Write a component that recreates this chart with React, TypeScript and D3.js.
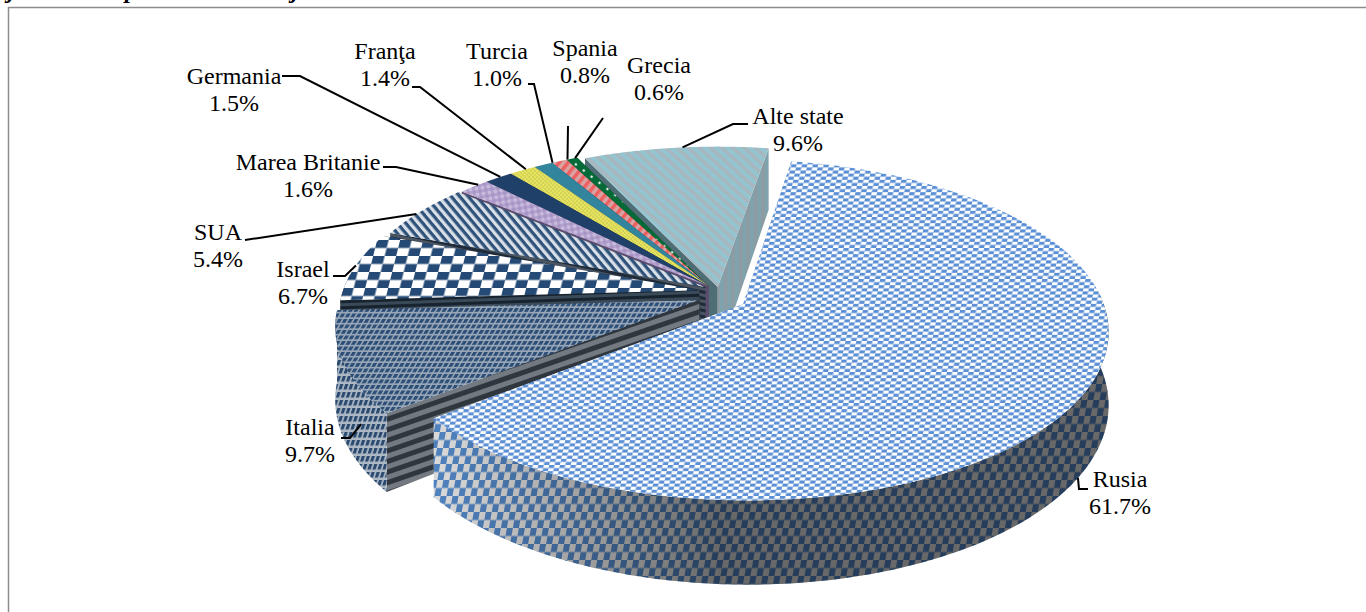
import React from "react";
import * as d3 from "d3";

// values
const categories = ["Rusia", "Italia", "Israel", "SUA", "Marea Britanie", "Germania", "Franţa", "Turcia", "Spania", "Grecia", "Alte state"];
const shares = [61.7, 9.7, 6.7, 5.4, 1.6, 1.5, 1.4, 1.0, 0.8, 0.6, 9.6];
const shareLabels = ["61.7%", "9.7%", "6.7%", "5.4%", "1.6%", "1.5%", "1.4%", "1.0%", "0.8%", "0.6%", "9.6%"];

// slice offset from the pie centre, in pie radii
const offsetX = [0.075, -0.047, -0.047, -0.03, -0.02, -0.02, -0.02, -0.02, -0.02, -0.02, 0.005];
const offsetY = [-0.05, -0.025, 0.035, 0.055, 0.06, 0.06, 0.06, 0.06, 0.06, 0.06, 0.055];

// pattern ids for top face, outer wall and the two cut walls of each slice
const topFills = ["rusTop", "itaTop", "isrTop", "usaTop", "ukTop", "deTop", "frTop", "trTop", "esTop", "grTop", "altTop"];
const rimFills = ["rusRim", "itaRim", "isrWall", "usaWall", "ukWall", "deWall", "frWall", "trWall", "esWall", "grWall", "altWall"];
const startCutFills = ["rusRim", "itaCut", "isrWall", "usaWall", "ukWall", "deWall", "frWall", "trWall", "esWall", "grWall", "altWall"];
const endCutFills = ["rusRim", "itaCut", "isrWall", "usaWall", "ukWall", "deWall", "frWall", "trWall", "esWall", "grWall", "altCut"];

// label anchor (centre of the two lines), leader elbow points, leader rim angle
const labelPos = [
  [1120, 493], [310, 441], [303, 283], [218, 246], [308, 176], [234, 90],
  [385, 65], [497, 65], [585, 62], [659, 79], [798, 130],
];
const leaderStart = [
  [[1088, 489], [1079, 489]],
  [[341, 438], [350, 438]],
  [[333, 276], [345, 276]],
  [[245, 240]],
  [[383, 167], [396, 167]],
  [[282, 76], [300, 76]],
  [[412, 87], [420, 87]],
  [[528, 84], [534, 84]],
  [[568, 126]],
  [[603, 118]],
  [[748, 124], [733, 124]],
];
const leaderAngle = [122, 240, 279, 299, 314, 319, 324.5, 330, 333, 334.5, 353.5];

const clippedLetters = [["j", 11], ["p", 131], ["j", 295]];

// pie plane -> screen, with a little perspective
const cx = 716, cy = 296;
const radiusX = 358, radiusY = 164, thickness = 71, persp = 0.15;
const project = (x: number, y: number, z: number) => {
  const w = 1 + persp * y;
  return [cx + (radiusX * x) / w, cy - (radiusY * y) / w + (thickness * z) / w] as [number, number];
};
const deg = (d: number) => (d * Math.PI) / 180;
const line = d3.line();

const arcs = d3.pie<number>().sort(null).value(d => d)
  .startAngle(deg(9.5)).endAngle(deg(369.5))(shares);

const sliceGeom = arcs.map((a, i) => {
  const ox = offsetX[i], oy = offsetY[i];
  const at = (t: number, z: number) => project(ox + Math.sin(t), oy + Math.cos(t), z);
  const steps = d3.range(0, 121).map(s => a.startAngle + ((a.endAngle - a.startAngle) * s) / 120);
  const top = steps.map(t => at(t, 0));
  const bottom = steps.map(t => at(t, 1));
  // only the part of the outer wall that faces the viewer
  const front = steps.filter(t => Math.cos(t) < 0.1);
  const apex = project(ox, oy, 0), apexLow = project(ox, oy, 1);
  return {
    at,
    topPath: line([apex, ...top]) + "Z",
    rimPath: front.length > 1
      ? line([...front.map(t => at(t, 0)), ...[...front].reverse().map(t => at(t, 1))]) + "Z"
      : null,
    startCut: line([apex, top[0], bottom[0], apexLow]) + "Z",
    endCut: line([apex, top[120], bottom[120], apexLow]) + "Z",
  };
});

type PatProps = { id: string; w: number; h: number; bg: string; transform?: string; children?: React.ReactNode };
const Pat = ({ id, w, h, bg, transform, children }: PatProps) => (
  <pattern id={id} width={w} height={h} patternUnits="userSpaceOnUse" patternTransform={transform}>
    <rect width={w} height={h} fill={bg} />
    {children}
  </pattern>
);
const Check = ({ id, w, h, a, b, transform }: { id: string; w: number; h: number; a: string; b: string; transform?: string }) => (
  <Pat id={id} w={w * 2} h={h * 2} bg={a} transform={transform}>
    <rect width={w} height={h} fill={b} />
    <rect x={w} y={h} width={w} height={h} fill={b} />
  </Pat>
);
const Stripe = ({ id, p, a, b, transform }: { id: string; p: number; a: string; b: string; transform: string }) => (
  <Pat id={id} w={p} h={p} bg={a} transform={transform}>
    <rect width={p} height={p / 2} fill={b} />
  </Pat>
);

const Defs = () => (
  <defs>
    <Check id="rusTop" w={5.4} h={3.1} a="#ffffff" b="#5b8fd6" transform="skewX(-12)" />
    <Check id="rusRim" w={6} h={8} a="#d9d9d9" b="#4f81bd" transform="skewX(-10)" />
    <linearGradient id="rusShade" gradientUnits="userSpaceOnUse" x1={440} x2={720} y1={0} y2={0}>
      <stop offset="0" stopColor="#000" stopOpacity={0} />
      <stop offset="1" stopColor="#000" stopOpacity={0.52} />
    </linearGradient>
    <Pat id="itaTop" w={5.5} h={5.5} bg="#98a7b8" transform="skewX(-30)">
      <rect width={3.8} height={3.8} fill="#2d4f77" />
    </Pat>
    <Pat id="itaRim" w={5} h={8} bg="#aeb9c5" transform="skewX(-18)">
      <rect width={3.2} height={5.6} fill="#2a4a70" />
    </Pat>
    <Stripe id="itaCut" p={10} a="#737981" b="#30363d" transform="rotate(-19)" />
    <Check id="isrTop" w={11.5} h={8} a="#ffffff" b="#244a75" transform="skewX(-14)" />
    <Stripe id="isrWall" p={6} a="#3a4a58" b="#17232e" transform="rotate(-2)" />
    <Stripe id="usaTop" p={6.5} a="#d9e0e8" b="#2e527a" transform="rotate(50)" />
    <Stripe id="usaWall" p={6} a="#4a5561" b="#1f2b38" transform="rotate(12)" />
    <Pat id="ukTop" w={6} h={6} bg="#b3a2cf" transform="rotate(-10)">
      <rect width={3} height={3} fill="#a794c4" />
      <rect x={3} y={3} width={3} height={3} fill="#c9bddd" />
    </Pat>
    <Pat id="ukWall" w={6} h={6} bg="#5c4d6e" />
    <Pat id="deTop" w={6} h={6} bg="#1f4068" />
    <Pat id="deWall" w={6} h={6} bg="#15273e" />
    <Check id="frTop" w={2} h={2} a="#e7e25c" b="#d5d45a" />
    <Pat id="frWall" w={6} h={6} bg="#8d8a2e" />
    <Pat id="trTop" w={6} h={6} bg="#33859e" />
    <Pat id="trWall" w={6} h={6} bg="#1f5566" />
    <Stripe id="esTop" p={7} a="#d9a3a3" b="#ee5f5f" transform="rotate(-52)" />
    <Pat id="esWall" w={6} h={6} bg="#8a3535" />
    <Pat id="grTop" w={10} h={10} bg="#046a38" transform="rotate(38)">
      <circle cx={5} cy={5} r={1.3} fill="#dfeee5" />
    </Pat>
    <Pat id="grWall" w={6} h={6} bg="#033f22" />
    <Stripe id="altTop" p={7.5} a="#93c5d0" b="#a7b7c0" transform="rotate(42)" />
    <Stripe id="altCut" p={7.5} a="#7fa3ad" b="#8d9ba2" transform="rotate(90)" />
    <Pat id="altWall" w={6} h={6} bg="#4f6d74" />
  </defs>
);

export default function App() {
  return (
    <svg
      width={1366}
      height={612}
      style={{ position: "absolute", left: 0, top: 0, fontFamily: "'Liberation Serif', serif" }}
    >
      <Defs />
      <rect width={1366} height={612} fill="#fff" />
      {clippedLetters.map(([c, x]) => (
        <text key={x} x={x} y={-2} fontSize={24} fontStyle="italic" fontWeight="bold" textAnchor="middle">{c}</text>
      ))}
      <path d="M1366,7.5H8.5V612" fill="none" stroke="#8c8c8c" strokeWidth={1.5} />

      {/* far slices first, Rusia goes on top */}
      {sliceGeom.map((_, i) => sliceGeom.length - 1 - i).map(i => {
        const g = sliceGeom[i];
        return (
          <g key={categories[i]}>
            <path d={g.startCut} fill={`url(#${startCutFills[i]})`} />
            <path d={g.endCut} fill={`url(#${endCutFills[i]})`} />
            {g.rimPath && <path d={g.rimPath} fill={`url(#${rimFills[i]})`} />}
            {i === 0 && g.rimPath && <path d={g.rimPath} fill="url(#rusShade)" />}
            <path d={g.topPath} fill={`url(#${topFills[i]})`} />
          </g>
        );
      })}

      {categories.map((c, i) => {
        const pts = [...leaderStart[i], sliceGeom[i].at(deg(leaderAngle[i]), 0)] as [number, number][];
        // Rusia and Italia leaders end lower down, on the outer wall
        if (i < 2) pts[pts.length - 1] = sliceGeom[i].at(deg(leaderAngle[i]), i === 0 ? 1 : 0.45);
        return <path key={c} d={line(pts)!} fill="none" stroke="#000" strokeWidth={2} />;
      })}

      {categories.map((c, i) => (
        <text key={c} fontSize={24} textAnchor="middle" fill="#000">
          <tspan x={labelPos[i][0]} y={labelPos[i][1] - 6}>{c}</tspan>
          <tspan x={labelPos[i][0]} y={labelPos[i][1] + 21}>{shareLabels[i]}</tspan>
        </text>
      ))}
    </svg>
  );
}
